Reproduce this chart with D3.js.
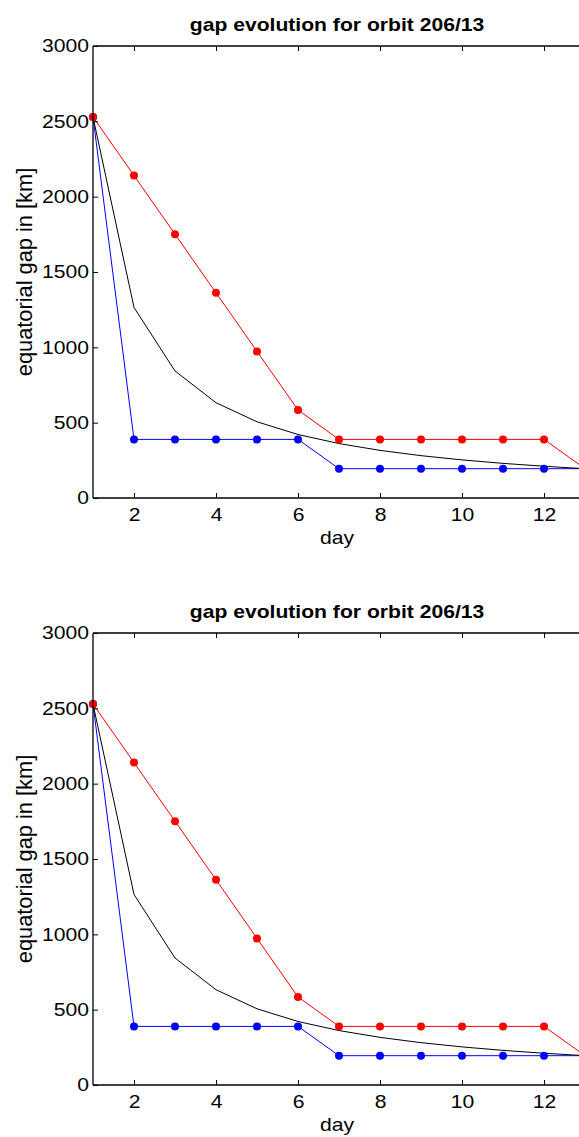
<!DOCTYPE html>
<html>
<head>
<meta charset="utf-8">
<script src="https://cdn.jsdelivr.net/npm/d3@7"></script>
<style>
  html, body { margin: 0; padding: 0; background: #fff; overflow: hidden; }
  svg { display: block; }
  text { font-family: "Liberation Sans", Arial, Helvetica, sans-serif; fill: #000; }
</style>
</head>
<body>
<svg id="chart" width="579" height="1137"></svg>
<script>
// Equatorial gap per day for orbit 206/13
const days = [1, 2, 3, 4, 5, 6, 7, 8, 9, 10, 11, 12, 13];
const gapMax = [2529, 2140, 1751, 1362, 973, 584, 389, 389, 389, 389, 389, 389, 194.5];
const gapMin = [2529, 389, 389, 389, 389, 389, 194.5, 194.5, 194.5, 194.5, 194.5, 194.5, 194.5];
const gapMean = [2529, 1264.5, 843, 632.3, 505.8, 421.5, 361.3, 316.1, 281, 252.9, 229.9, 210.8, 194.5];
const xTicks = [2, 4, 6, 8, 10, 12];
const yTicks = [0, 500, 1000, 1500, 2000, 2500, 3000];
const titleText = "gap evolution for orbit 206/13";
const xLabel = "day";
const yLabel = "equatorial gap in [km]";

const svg = d3.select("#chart");
const panelTops = [46, 633];
const plotH = 452;
const left = 93, right = 585;
const fs = 18.7;      // font size
const sx = 1.13;      // horizontal glyph stretch

// Re-anchor axis text so it can be stretched horizontally about its anchor
function stretchText(sel) {
  sel.each(function () {
    const t = d3.select(this);
    const x0 = +t.attr("x") || 0;
    t.attr("x", 0).attr("transform", `translate(${x0},0) scale(${sx},1)`);
  });
}

panelTops.forEach(top => {
  const g = svg.append("g");
  const x = d3.scaleLinear().domain([1, 13]).range([left, right]);
  const y = d3.scaleLinear().domain([0, 3000]).range([top + plotH, top]);

  const line = d3.line().x((d, i) => x(days[i])).y(d => y(d));

  // Data lines
  g.append("path").datum(gapMax).attr("d", line)
    .attr("fill", "none").attr("stroke", "#ff0000").attr("stroke-width", 1);
  g.append("path").datum(gapMin).attr("d", line)
    .attr("fill", "none").attr("stroke", "#0000ff").attr("stroke-width", 1);
  g.append("path").datum(gapMean).attr("d", line)
    .attr("fill", "none").attr("stroke", "#000000").attr("stroke-width", 1);

  // Markers
  g.selectAll(".mmin").data(gapMin).enter().append("circle")
    .attr("cx", (d, i) => x(days[i])).attr("cy", d => y(d)).attr("r", 4)
    .attr("fill", "#0000ff");
  g.selectAll(".mmax").data(gapMax).enter().append("circle")
    .attr("cx", (d, i) => x(days[i])).attr("cy", d => y(d)).attr("r", 4)
    .attr("fill", "#ff0000");

  // Axes (ticks pointing inward)
  const ax = g.append("g").attr("transform", `translate(0,${top + plotH})`)
    .call(d3.axisBottom(x).tickValues(xTicks).tickSize(-5).tickPadding(10).tickFormat(d3.format("d")));
  const axTop = g.append("g").attr("transform", `translate(0,${top})`)
    .call(d3.axisTop(x).tickValues(xTicks).tickSize(-5).tickFormat(""));
  const ay = g.append("g").attr("transform", `translate(${left},0)`)
    .call(d3.axisLeft(y).tickValues(yTicks).tickSize(-5).tickPadding(4).tickFormat(d3.format("d")));
  const ayR = g.append("g").attr("transform", `translate(${right},0)`)
    .call(d3.axisRight(y).tickValues(yTicks).tickSize(-5).tickFormat(""));

  [ax, axTop, ay, ayR].forEach(a => {
    a.select(".domain").attr("stroke", "#000").attr("stroke-width", 1.3);
    a.selectAll(".tick line").attr("stroke", "#000").attr("stroke-width", 1);
    a.selectAll("text").attr("font-size", fs).attr("fill", "#000")
      .attr("font-family", "Liberation Sans, Arial, sans-serif");
  });
  stretchText(ax.selectAll(".tick text"));
  stretchText(ay.selectAll(".tick text"));
  ax.selectAll(".domain").attr("d", `M${left},0H${right}`);
  axTop.selectAll(".domain").attr("d", `M${left},0H${right}`);
  ay.selectAll(".domain").attr("d", `M0,${top + plotH}V${top}`);
  ayR.selectAll(".domain").attr("d", `M0,${top + plotH}V${top}`);

  // Title and labels
  g.append("text")
    .attr("transform", `translate(337,${top - 15}) scale(${sx},1)`)
    .attr("text-anchor", "middle").attr("font-size", fs).attr("font-weight", "bold")
    .text(titleText);
  g.append("text")
    .attr("transform", `translate(337,${top + plotH + 46}) scale(${sx},1)`)
    .attr("text-anchor", "middle").attr("font-size", fs).text(xLabel);
  g.append("text")
    .attr("transform", `translate(32,${top + plotH / 2}) rotate(-90)`)
    .attr("text-anchor", "middle").attr("font-size", 21.8).text(yLabel);
});
</script>
</body>
</html>
